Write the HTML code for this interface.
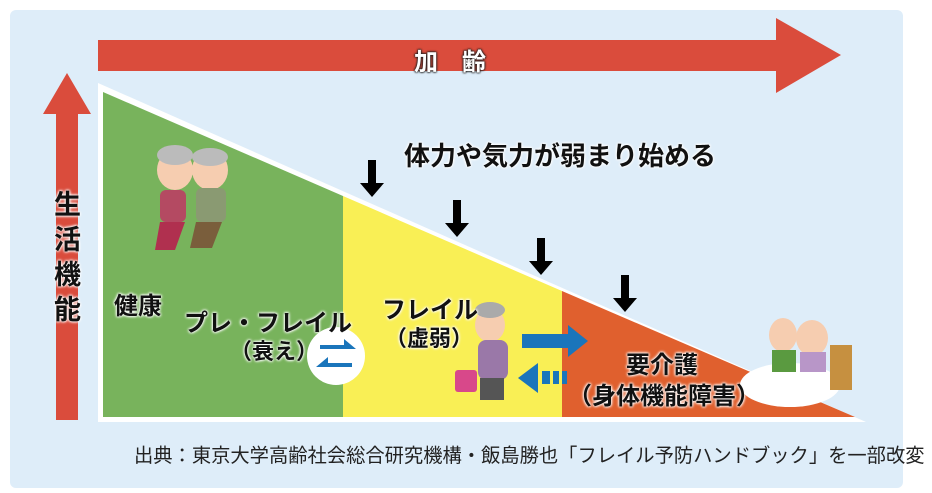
<!DOCTYPE html>
<html><head><meta charset="utf-8"><style>
body{margin:0;width:932px;height:493px;background:#fff;overflow:hidden;font-family:"Liberation Sans","Noto Sans CJK JP",sans-serif}
.t{position:absolute;font-weight:bold;white-space:nowrap;color:#111;text-shadow:0 0 3px #fff,0 0 3px #fff,0 0 2px #fff}
</style></head><body>
<div style="position:absolute;left:10px;top:10px;width:893px;height:478px;background:#deedf9;border-radius:6px"></div>
<svg width="932" height="493" style="position:absolute;left:0;top:0">
<polygon points="98,40 776,40 776,18 841,55 776,93 776,71 98,71" fill="#da4c3c"/>
<polygon points="67,73 91,114 78,114 78,420 56,420 56,114 43,114" fill="#da4c3c"/>
<polygon points="98,83 866,422 98,422" fill="#fff"/>
<polygon points="103,92 343,196 343,417 103,417" fill="#78b35c"/>
<polygon points="343,196 562,291 562,417 343,417" fill="#f9ef55"/>
<polygon points="562,291 855,417 562,417" fill="#e0602e"/>
<g fill="#000">
<polygon points="368,160 376,160 376,183 384,183 372,197 360,183 368,183"/>
<polygon points="453,200 461,200 461,223 469,223 457,237 445,223 453,223"/>
<polygon points="537,238 545,238 545,261 553,261 541,275 529,261 537,261"/>
<polygon points="621,275 629,275 629,298 637,298 625,312 613,298 621,298"/>
</g>
<circle cx="336" cy="356" r="29" fill="#fff"/>
<polygon points="320,345 344,345 344,339 356,349 320,349" fill="#1a75bb"/>
<polygon points="352,363 328,363 328,357 316,367 352,367" fill="#1a75bb"/>
<polygon points="522,334 568,334 568,325 588,341 568,357 568,348 522,348" fill="#1a75bb"/>
<polygon points="538,372 538,363 518,378 538,393 538,384" fill="#1a75bb"/>
<rect x="542" y="371" width="8" height="13" fill="#1a75bb"/><rect x="553" y="371" width="6" height="13" fill="#1a75bb"/><rect x="562" y="371" width="5" height="13" fill="#1a75bb"/>
<ellipse cx="175" cy="170" rx="18" ry="20" fill="#f6cdb0"/><ellipse cx="210" cy="170" rx="18" ry="20" fill="#f6cdb0"/>
<ellipse cx="175" cy="155" rx="18" ry="10" fill="#bbb"/><ellipse cx="210" cy="157" rx="18" ry="9" fill="#bbb"/>
<rect x="160" y="190" width="26" height="32" rx="6" fill="#b44a62"/><rect x="196" y="188" width="30" height="34" rx="6" fill="#8a9a72"/>
<polygon points="160,222 185,222 175,250 155,250" fill="#b0304f"/><polygon points="196,222 222,222 212,248 190,248" fill="#7a5e3c"/>
<ellipse cx="490" cy="325" rx="15" ry="17" fill="#f6cdb0"/><ellipse cx="490" cy="310" rx="15" ry="8" fill="#aaa"/>
<rect x="478" y="340" width="30" height="40" rx="8" fill="#9a78a8"/><rect x="480" y="378" width="24" height="22" fill="#555"/>
<rect x="455" y="370" width="22" height="22" rx="3" fill="#d8488a"/>
<ellipse cx="790" cy="385" rx="50" ry="22" fill="#fff"/><rect x="830" y="345" width="22" height="45" fill="#c69040"/>
<ellipse cx="783" cy="335" rx="14" ry="17" fill="#f6cdb0"/><ellipse cx="812" cy="338" rx="16" ry="18" fill="#f6cdb0"/>
<rect x="772" y="350" width="24" height="22" fill="#5a9a40"/><rect x="800" y="352" width="26" height="20" fill="#b896c8"/>
</svg>
<div class="t" style="left:414px;top:42px;font-size:24px;color:#fff;text-shadow:0 0 2px #222,0 0 2px #222,0 0 2px #222">加　齢</div>
<div class="t" style="left:404px;top:136px;font-size:26px">体力や気力が弱まり始める</div>
<div class="t" style="left:54px;top:188px;font-size:27px;line-height:35px;width:28px">生<br>活<br>機<br>能</div>
<div class="t" style="left:114px;top:286px;font-size:24px">健康</div>
<div class="t" style="left:184px;top:303px;font-size:24px">プレ・フレイル</div>
<div class="t" style="left:230px;top:334px;font-size:22px">（衰え）</div>
<div class="t" style="left:382px;top:290px;font-size:24px">フレイル</div>
<div class="t" style="left:385px;top:321px;font-size:22px">（虚弱）</div>
<div class="t" style="left:626px;top:345px;font-size:24px">要介護</div>
<div class="t" style="left:568px;top:376px;font-size:24px">（身体機能障害）</div>
<div class="t" style="left:134px;top:440px;font-size:19.3px;font-weight:normal;color:#222;text-shadow:none">出典：東京大学高齢社会総合研究機構・飯島勝也「フレイル予防ハンドブック」を一部改変</div>
</body></html>
